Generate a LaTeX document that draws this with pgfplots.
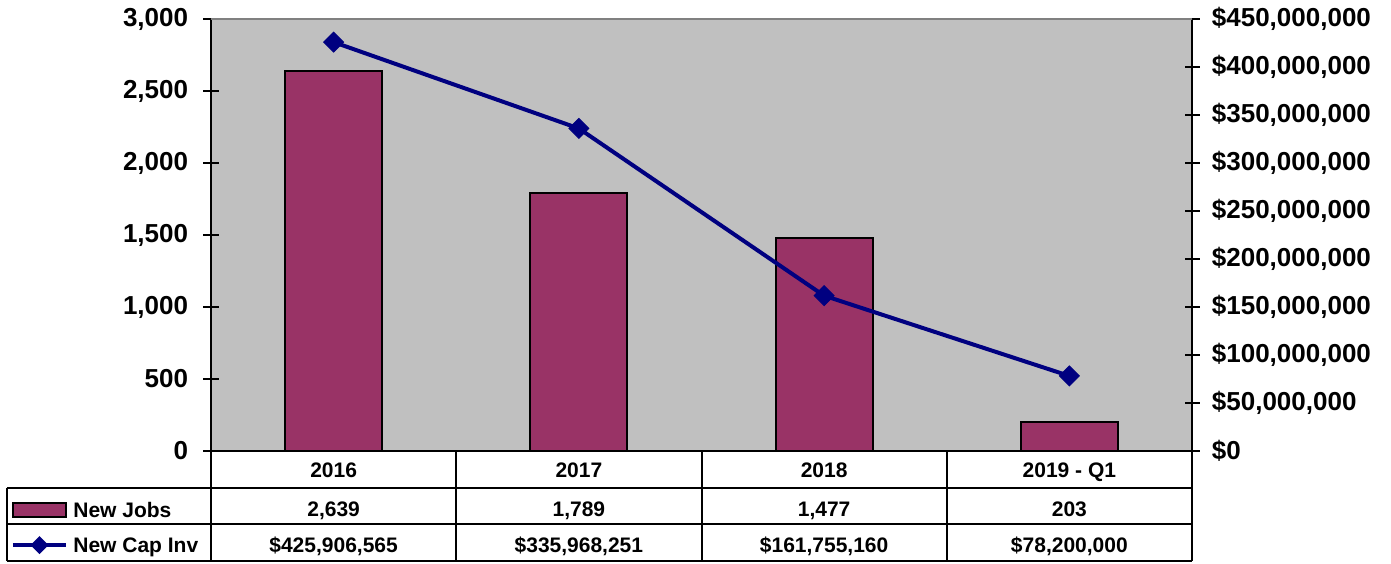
\documentclass[border=0pt]{standalone}
\usepackage{pgfplots}
\pgfplotsset{compat=1.18}
\usepackage{fontspec}
\setmainfont{Liberation Sans}
\definecolor{barc}{HTML}{993366}
\definecolor{linec}{HTML}{000080}
\definecolor{bgc}{HTML}{C0C0C0}
\definecolor{topc}{HTML}{808080}
\newcommand{\tickfont}{\fontsize{13}{15}\selectfont\bfseries}
\newcommand{\tabfont}{\fontsize{10.5}{12}\selectfont\bfseries}
\begin{document}
\begin{tikzpicture}
\path[use as bounding box] (-105.5pt,-56pt) rectangle (590pt,225.5pt);
\begin{axis}[
  scale only axis, width=490.5pt, height=216pt,
  xmin=-0.5, xmax=3.5, ymin=0, ymax=3000,
  axis x line*=bottom, axis y line*=left,
  axis line style={line width=1pt, black},
  xtick=\empty,
  ytick={0,500,1000,1500,2000,2500,3000},
  yticklabels={0,500,{1,000},{1,500},{2,000},{2,500},{3,000}},
  tick align=center, major tick length=7.5pt,
  tick style={line width=1pt, black},
  yticklabel style={font=\tickfont, inner sep=0pt, xshift=-7.5pt},
  axis background/.style={fill=bgc},
  clip=false,
]
\addplot[ybar, bar width=48.5pt, fill=barc, draw=black, line width=1pt]
  coordinates {(0,2639) (1,1789) (2,1477) (3,203)};
\end{axis}
\begin{axis}[
  scale only axis, width=490.5pt, height=216pt,
  xmin=-0.5, xmax=3.5, ymin=0, ymax=450000000,
  axis x line=none, axis y line*=right,
  axis line style={line width=1pt, black},
  scaled y ticks=false,
  ytick={0,50000000,100000000,150000000,200000000,250000000,300000000,350000000,400000000,450000000},
  yticklabels={{\$0},{\$50,000,000},{\$100,000,000},{\$150,000,000},{\$200,000,000},{\$250,000,000},{\$300,000,000},{\$350,000,000},{\$400,000,000},{\$450,000,000}},
  tick align=center, major tick length=7.5pt,
  tick style={line width=1pt, black},
  yticklabel style={font=\tickfont, inner sep=0pt, xshift=6pt},
  clip=false,
]
\addplot[color=linec, line width=2pt, mark=square*, mark size=3.5pt,
  mark options={rotate=45, line width=0.5pt, fill=linec}]
  coordinates {(0,425906565) (1,335968251) (2,161755160) (3,78200000)};
\end{axis}
% top border
\draw[topc, line width=1pt] (0,216pt) -- (490.5pt,216pt);
% table
\begin{scope}[line width=1pt, black]
\draw (0,0) -- (490.5pt,0);
\draw (0,-18.5pt) -- (490.5pt,-18.5pt);
\draw (-102pt,-18.5pt) -- (0,-18.5pt);
\draw (-102pt,-36.5pt) -- (490.5pt,-36.5pt);
\draw (-102pt,-55pt) -- (490.5pt,-55pt);
\draw (-102pt,-18.5pt) -- (-102pt,-55pt);
\foreach \x in {0,122.625,245.25,367.875,490.5} {\draw (\x pt,0) -- (\x pt,-55pt);}
\end{scope}
\foreach \t [count=\i from 0] in {2016,2017,2018,2019 - Q1} {
  \node[font=\tabfont, inner sep=0pt, anchor=base] at ({(\i+0.5)*122.625pt},-13pt) {\t};}
\foreach \t [count=\i from 0] in {{2,639},{1,789},{1,477},{203}} {
  \node[font=\tabfont, inner sep=0pt, anchor=base] at ({(\i+0.5)*122.625pt},-32.5pt) {\t};}
\foreach \t [count=\i from 0] in {{\$425,906,565},{\$335,968,251},{\$161,755,160},{\$78,200,000}} {
  \node[font=\tabfont, inner sep=0pt, anchor=base] at ({(\i+0.5)*122.625pt},-50.5pt) {\t};}
% legend keys
\draw[fill=barc, draw=black, line width=1pt] (-99pt,-26pt) rectangle (-72.5pt,-33pt);
\node[font=\tabfont, anchor=base west, inner sep=0pt] at (-69pt,-33pt) {New Jobs};
\draw[linec, line width=2pt] (-99pt,-47pt) -- (-72.5pt,-47pt);
\fill[linec] (-85.75pt,-47pt) ++(0,4.5pt) -- ++(-4.5pt,-4.5pt) -- ++(4.5pt,-4.5pt) -- ++(4.5pt,4.5pt) -- cycle;
\node[font=\tabfont, anchor=base west, inner sep=0pt] at (-69pt,-50.5pt) {New Cap Inv};
\end{tikzpicture}
\end{document}
